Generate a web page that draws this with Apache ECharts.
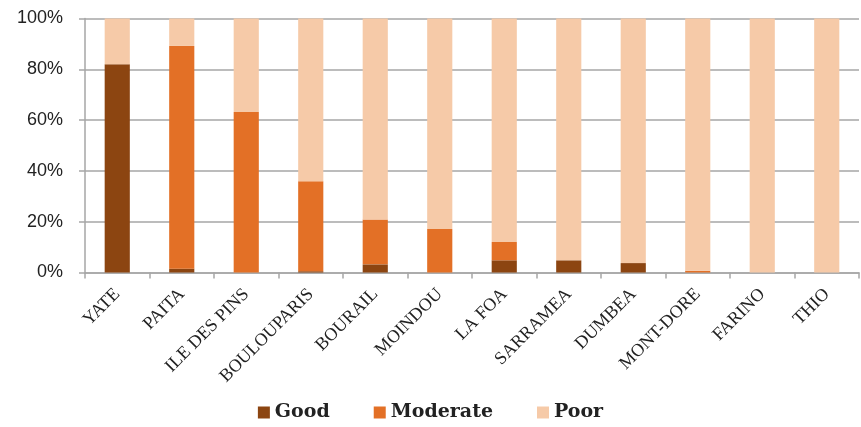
<!DOCTYPE html>
<html>
<head>
<meta charset="utf-8">
<script src="https://cdn.jsdelivr.net/npm/echarts@6/dist/echarts.min.js"></script>
<style>
  html, body { margin: 0; padding: 0; background: #fff; }
  #chart { width: 861px; height: 427px; }
</style>
</head>
<body>
<div id="chart"></div>
<script>
// Share of sites in each condition class, per commune (percent)
const communes = ['YATE', 'PAITA', 'ILE DES PINS', 'BOULOUPARIS', 'BOURAIL', 'MOINDOU',
  'LA FOA', 'SARRAMEA', 'DUMBEA', 'MONT-DORE', 'FARINO', 'THIO'];
const good     = [82, 1.5, 0, 0.5, 3.2, 0, 4.8, 4.8, 3.7, 0, 0, 0];
const moderate = [0, 87.7, 63.2, 35.4, 17.7, 17.1, 7.2, 0, 0, 0.7, 0, 0];
const poor     = [18, 10.8, 36.8, 64.1, 79.1, 82.9, 88, 95.2, 96.3, 99.3, 100, 100];
const yTicks   = [0, 20, 40, 60, 80, 100];

const colors = { Good: '#8C4511', Moderate: '#E37026', Poor: '#F6CAA8' };

const chart = echarts.init(document.getElementById('chart'));

function barSeries(name, values) {
  return {
    name: name,
    type: 'bar',
    stack: 'share',
    // empty classes are left out so they draw nothing
    data: values.map(v => (v > 0 ? v : '-')),
    barCategoryGap: '61%',
    itemStyle: { color: colors[name] },
    emphasis: { disabled: true }
  };
}

chart.setOption({
  animation: false,
  grid: { left: 85, right: 2, top: 18.5, bottom: 154.5, containLabel: false },
  legend: {
    bottom: 0,
    left: 'center',
    itemWidth: 12,
    itemHeight: 12,
    itemGap: 44,
    icon: 'rect',
    textStyle: { fontFamily: 'DejaVu Serif', fontWeight: 'bold', fontSize: 19, color: '#222' },
    data: ['Good', 'Moderate', 'Poor']
  },
  xAxis: {
    type: 'category',
    data: communes,
    boundaryGap: true,
    axisLine: { lineStyle: { color: '#A6A6A6', width: 1.5 } },
    axisTick: { show: true, length: 6, alignWithLabel: false, lineStyle: { color: '#A6A6A6', width: 1.5 } },
    axisLabel: {
      interval: 0,
      rotate: 45,
      margin: 19,
      fontFamily: 'Liberation Serif',
      fontSize: 18,
      color: '#222'
    }
  },
  yAxis: {
    type: 'value',
    min: 0,
    max: 100,
    interval: 20,
    axisLine: { show: true, lineStyle: { color: '#A6A6A6', width: 1.5 } },
    axisTick: { show: true, length: 6, lineStyle: { color: '#A6A6A6', width: 1.5 } },
    splitLine: { show: true, lineStyle: { color: '#A6A6A6', width: 1.5 } },
    axisLabel: {
      margin: 22,
      fontFamily: 'Liberation Sans',
      fontSize: 18,
      color: '#222',
      formatter: function (v) { return yTicks.indexOf(v) >= 0 ? v + '%' : ''; }
    }
  },
  series: [
    barSeries('Good', good),
    barSeries('Moderate', moderate),
    barSeries('Poor', poor)
  ]
});
</script>
</body>
</html>
